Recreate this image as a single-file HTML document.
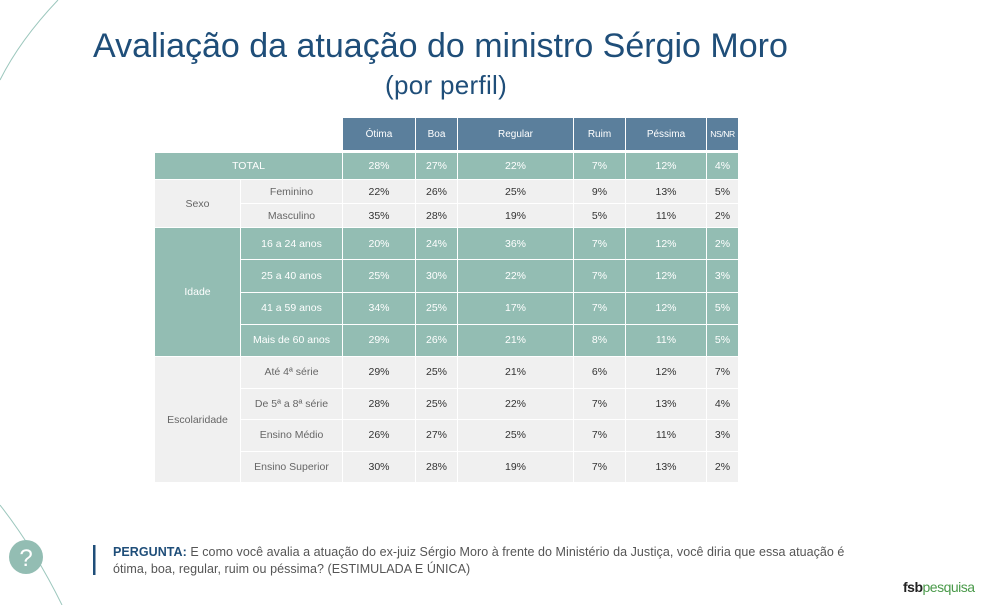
<!DOCTYPE html>
<html><head><meta charset="utf-8"><style>
body{margin:0;width:996px;height:605px;background:#fff;position:relative;overflow:hidden;font-family:"Liberation Sans",sans-serif}
.c{position:absolute;box-sizing:border-box;display:flex;align-items:center;justify-content:center;font-size:10.5px;color:#333;white-space:nowrap}
.h{background:#5b7f9c;color:#fff;font-size:10px}
.t{background:#93bdb3;color:#fff}
.g{background:#f0f0f0}
.gl{color:#666}
.tl{color:#fff}
</style></head><body>
<svg style="position:absolute;left:0;top:0" width="996" height="605">
<path d="M58,0 Q20,40 0,80" fill="none" stroke="#9cc7bd" stroke-width="1"/>
<path d="M0,505 Q35,550 62,605" fill="none" stroke="#9cc7bd" stroke-width="1"/>
<circle cx="26" cy="557" r="17" fill="#93bdb3"/>
<text x="26" y="566" text-anchor="middle" font-size="24" fill="#fff" font-family="Liberation Sans">?</text>
<rect x="93" y="545" width="2.5" height="30" fill="#1f4e79"/>
</svg>
<div style="position:absolute;left:93px;top:27px;font-size:34px;color:#1f4e79;white-space:nowrap">Avaliação da atuação do ministro Sérgio Moro</div>
<div style="position:absolute;left:385px;top:70px;font-size:26px;letter-spacing:0.3px;color:#1f4e79">(por perfil)</div>
<div id="tbl"></div>
<div style="position:absolute;left:113px;top:544px;font-size:12.5px;letter-spacing:0.05px;color:#555;line-height:16.5px;width:760px;white-space:nowrap"><b style="color:#1f4e79">PERGUNTA:</b> E como você avalia a atuação do ex-juiz Sérgio Moro à frente do Ministério da Justiça, você diria que essa atuação é<br>ótima, boa, regular, ruim ou péssima? (ESTIMULADA E ÚNICA)</div>
<div style="position:absolute;left:903px;top:579px;font-size:14px;letter-spacing:-0.5px"><b style="color:#222">fsb</b><span style="color:#4a9a4a">pesquisa</span></div>
<script>
const columns=["Ótima","Boa","Regular","Ruim","Péssima","NS/NR"];
const totalRow=[28,27,22,7,12,4];
const groups=["Sexo","Idade","Escolaridade"];
const rowLabels=[["Feminino","Masculino"],["16 a 24 anos","25 a 40 anos","41 a 59 anos","Mais de 60 anos"],["Até 4ª série","De 5ª a 8ª série","Ensino Médio","Ensino Superior"]];
const rowValues=[
[[22,26,25,9,13,5],[35,28,19,5,11,2]],
[[20,24,36,7,12,2],[25,30,22,7,12,3],[34,25,17,7,12,5],[29,26,21,8,11,5]],
[[29,25,21,6,12,7],[28,25,22,7,13,4],[26,27,25,7,11,3],[30,28,19,7,13,2]]];
const xs=[155,241,343,416,458,574,626,707,739];
const groupY=[[180,24],[228,32.25],[357,31.5]];
const groupCls=["g","t","g"];
const T=document.getElementById('tbl');
function cell(x,y,w,h,txt,cls,name){const d=document.createElement('div');d.className='c '+cls;
d.style.cssText=`left:${x}px;top:${y}px;width:${w}px;height:${h}px;border-right:1px solid #fff;border-bottom:1px solid #fff`;
d.textContent=txt;


T.appendChild(d);}
columns.forEach((c,i)=>{cell(xs[i+2],118,xs[i+3]-xs[i+2],33,c,'h','column-header');});
T.lastChild.style.fontSize='8.5px';T.lastChild.style.letterSpacing='-0.4px';
cell(155,153,188,27,'TOTAL','t tl','total-label');
totalRow.forEach((v,i)=>cell(xs[i+2],153,xs[i+3]-xs[i+2],27,v+'%','t tl','total-value'));
groups.forEach((g,gi)=>{const [y0,rh]=groupY[gi];const n=rowLabels[gi].length;const cls=groupCls[gi];const lc=cls=='t'?'tl':'gl';
cell(155,y0,86,rh*n,g,cls+' '+lc,'group-label');
rowLabels[gi].forEach((l,ri)=>{const y=y0+rh*ri;
cell(241,y,102,rh,l,cls+' '+lc,'row-label');
rowValues[gi][ri].forEach((v,ci)=>cell(xs[ci+2],y,xs[ci+3]-xs[ci+2],rh,v+'%',cls,'value-cell'));});});
</script>
</body></html>
